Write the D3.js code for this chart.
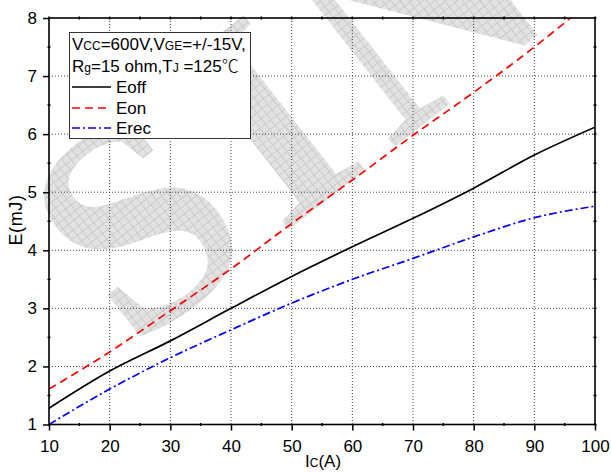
<!DOCTYPE html>
<html><head><meta charset="utf-8">
<script src="https://cdn.jsdelivr.net/npm/d3@7"></script>
<style>
html,body{margin:0;padding:0;background:#fff;}
svg{display:block;font-family:"Liberation Sans",Arial,sans-serif;}
</style></head>
<body>
<svg id="chart" width="611" height="473"></svg>
<script>
const current = [10,20,30,40,50,60,70,80,90,100];
const eoff = [1.28,1.92,2.44,3.00,3.55,4.06,4.55,5.07,5.64,6.12];
const eon  = [1.61,2.25,2.96,3.68,4.46,5.21,5.98,6.72,7.50,8.35];
const erec = [1.00,1.61,2.15,2.63,3.09,3.50,3.86,4.23,4.56,4.76];
const xTicks = [10,20,30,40,50,60,70,80,90,100];
const xMinor = [15,25,35,45,55,65,75,85,95];
const yTicks = [1,2,3,4,5,6,7,8];
const yMinor = [1.5,2.5,3.5,4.5,5.5,6.5,7.5];
const seriesNames = ["Eoff","Eon","Erec"];

const svg = d3.select("#chart");
const L=49,R=595,T=18,B=424.5;
const x = d3.scaleLinear().domain([10,100]).range([L,R]);
const y = d3.scaleLinear().domain([1,8]).range([B,T]);

const defs = svg.append("defs");
const pat = defs.append("pattern").attr("id","hatch").attr("patternUnits","userSpaceOnUse")
  .attr("width",7).attr("height",7);
pat.append("rect").attr("width",7).attr("height",7).attr("fill","#e2e2e2");
pat.append("path").attr("d","M0,0.5H7M0.5,0V7").attr("stroke","#cbcbcb").attr("stroke-width",1);
defs.append("clipPath").attr("id","plot").append("rect")
  .attr("x",L).attr("y",T).attr("width",R-L).attr("height",B-T);
defs.append("clipPath").attr("id","page").append("rect")
  .attr("x",0).attr("y",0).attr("width",611).attr("height",473);

// watermark
svg.append("g").attr("clip-path","url(#page)")
  .append("text").attr("transform","translate(132,352) rotate(-38)")
  .attr("font-family","Liberation Serif").attr("font-weight","bold").attr("font-size",300)
  .attr("letter-spacing",22)
  .attr("fill","url(#hatch)").text("SIN");

// grid
const grid = svg.append("g").attr("stroke","#444").attr("stroke-width",1).attr("stroke-dasharray","1,2");
grid.selectAll(".vg").data(xTicks.slice(1,-1)).join("line")
  .attr("x1",d=>x(d)).attr("x2",d=>x(d)).attr("y1",T).attr("y2",B);
grid.selectAll(".hg").data(yTicks.slice(1,-1)).join("line")
  .attr("y1",d=>y(d)).attr("y2",d=>y(d)).attr("x1",L).attr("x2",R);

// curves
const line = d3.line().x(d=>x(d[0])).y(d=>y(d[1])).curve(d3.curveMonotoneX);
const series = [
  {name:seriesNames[0], vals:eoff, color:"#000000", dash:null},
  {name:seriesNames[1], vals:eon, color:"#ff0000", dash:"8,5"},
  {name:seriesNames[2], vals:erec, color:"#0000ff", dash:"8,3,2,3"}
];
const cg = svg.append("g").attr("clip-path","url(#plot)");
series.forEach(s=>{
  cg.append("path").datum(current.map((c,i)=>[c,s.vals[i]]))
    .attr("d",line).attr("fill","none").attr("stroke",s.color)
    .attr("stroke-width",1.7).attr("stroke-dasharray",s.dash);
});

// axes
const fs = 17;
const xa = svg.append("g").attr("transform",`translate(0,${B})`)
  .call(d3.axisBottom(x).tickValues(xTicks).tickSize(6).tickPadding(9).tickFormat(d3.format("d")));
const ya = svg.append("g").attr("transform",`translate(${L},0)`)
  .call(d3.axisLeft(y).tickValues(yTicks).tickSize(6).tickPadding(6).tickFormat(d3.format("d")));
[xa,ya].forEach(a=>{
  a.selectAll("text").attr("font-size",fs).attr("font-family","Liberation Sans, Arial").attr("fill","#000");
  a.selectAll("line").attr("stroke","#000").attr("stroke-width",1.5);
  a.select(".domain").remove();
});
svg.append("rect").attr("x",L).attr("y",T).attr("width",R-L).attr("height",B-T)
  .attr("fill","none").attr("stroke","#000").attr("stroke-width",1.6);
const tk = svg.append("g").attr("stroke","#000").attr("stroke-width",1.5);
const allX = xTicks.concat(xMinor), allY = yTicks.concat(yMinor);
tk.selectAll(".bm").data(xMinor).join("line").attr("x1",d=>x(d)).attr("x2",d=>x(d)).attr("y1",B-1.5).attr("y2",B+1.5);
tk.selectAll(".tm").data(allX).join("line").attr("x1",d=>x(d)).attr("x2",d=>x(d)).attr("y1",T-1.5).attr("y2",T+1.5);
tk.selectAll(".lm").data(yMinor).join("line").attr("y1",d=>y(d)).attr("y2",d=>y(d)).attr("x1",L-1.5).attr("x2",L+1.5);
tk.selectAll(".rm").data(allY).join("line").attr("y1",d=>y(d)).attr("y2",d=>y(d)).attr("x1",R-1.5).attr("x2",R+1.5);

// axis titles
const xt = svg.append("text").attr("x",305).attr("y",467).attr("font-size",17);
xt.append("tspan").text("I");
xt.append("tspan").attr("font-size",12).text("C");
xt.append("tspan").text("(A)");
svg.append("text").attr("transform","translate(22,220) rotate(-90)").attr("text-anchor","middle")
  .attr("font-size",18).attr("letter-spacing",0.6).text("E(mJ)");

// legend
const lg = svg.append("g");
lg.append("rect").attr("x",69.5).attr("y",32.5).attr("width",181).attr("height",106)
  .attr("fill","#fff").attr("stroke","#333").attr("stroke-width",1);
const t1 = lg.append("text").attr("x",72).attr("y",50).attr("font-size",17);
t1.append("tspan").text("V"); t1.append("tspan").attr("font-size",12).text("CC");
t1.append("tspan").text("=600V,V"); t1.append("tspan").attr("font-size",12).text("GE");
t1.append("tspan").text("=+/-15V,");
const t2 = lg.append("text").attr("x",72).attr("y",72).attr("font-size",17);
t2.append("tspan").text("R"); t2.append("tspan").attr("font-size",12).text("g");
t2.append("tspan").text("=15 ohm,T"); t2.append("tspan").attr("font-size",12).text("J");
t2.append("tspan").text(" =125");
t2.append("tspan").attr("font-family","Noto Sans CJK SC").attr("font-weight",300).text("℃");
const ly = [87,108,128];
series.forEach((s,i)=>{
  lg.append("line").attr("x1",72).attr("x2",111).attr("y1",ly[i]).attr("y2",ly[i])
    .attr("stroke",s.color).attr("stroke-width",1.6).attr("stroke-dasharray",s.dash);
  lg.append("text").attr("x",116).attr("y",ly[i]+6).attr("font-size",17).text(s.name);
});
</script>
</body></html>
